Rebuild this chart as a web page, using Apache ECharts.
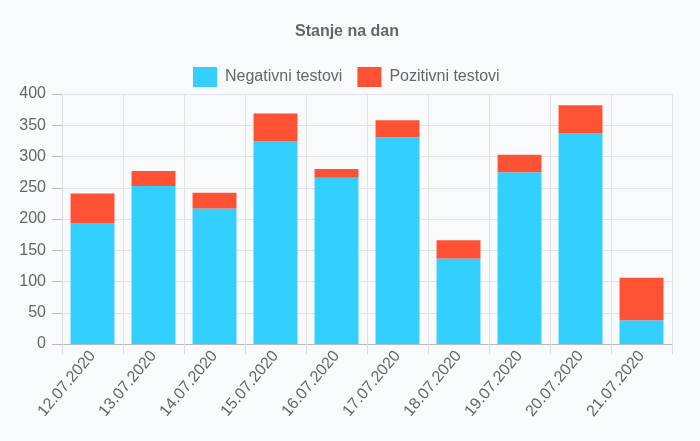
<!DOCTYPE html>
<html>
<head>
<meta charset="utf-8">
<script src="https://cdn.jsdelivr.net/npm/echarts@6/dist/echarts.min.js"></script>
<style>
html,body{margin:0;padding:0;background:#f9fafc;}
#chart{width:700px;height:441px;}
</style>
</head>
<body>
<div id="chart"></div>
<script>
var categories = ['12.07.2020','13.07.2020','14.07.2020','15.07.2020','16.07.2020','17.07.2020','18.07.2020','19.07.2020','20.07.2020','21.07.2020'];
var negativni = [193, 253, 217, 324, 266, 331, 137, 275, 337, 38];
var pozitivni = [48, 24, 25, 45, 14, 27, 29, 28, 45, 68];
var yTicks = [0, 50, 100, 150, 200, 250, 300, 350, 400];

var chart = echarts.init(document.getElementById('chart'), null, {renderer:'canvas'});
var font = '"Liberation Sans", Arial, Helvetica, sans-serif';
chart.setOption({
  backgroundColor: '#f9fafc',
  animation: false,
  title: {
    text: 'Stanje na dan',
    left: 290,
    top: 19,
    textStyle: {fontFamily: font, fontSize: 16, fontWeight: 'bold', color: '#666'}
  },
  legend: {
    top: 62,
    left: 188,
    itemWidth: 24,
    itemHeight: 20,
    itemGap: 15,
    icon: 'rect',
    textStyle: {fontFamily: font, fontSize: 16, color: '#666', padding: [0,0,0,3]},
    data: ['Negativni testovi','Pozitivni testovi']
  },
  grid: {left: 62, right: 28, top: 94, bottom: 97, containLabel: false},
  xAxis: {
    type: 'category',
    data: categories,
    boundaryGap: true,
    axisLine: {lineStyle: {color: '#bbb'}},
    axisTick: {show: true, length: 10, alignWithLabel: false, lineStyle: {color: '#ddd'}},
    splitLine: {show: true, lineStyle: {color: '#e2e2e2'}},
    axisLabel: {rotate: 50, fontFamily: font, fontSize: 16, color: '#666', margin: 9, interval: 0}
  },
  yAxis: {
    type: 'value',
    min: yTicks[0],
    max: yTicks[yTicks.length-1],
    interval: 50,
    axisLine: {show: true, lineStyle: {color: '#ddd'}},
    axisTick: {show: true, length: 10, lineStyle: {color: '#bbb'}},
    splitLine: {show: true, lineStyle: {color: '#e2e2e2'}},
    axisLabel: {fontFamily: font, fontSize: 16, color: '#666', margin: 16}
  },
  series: [
    {name: 'Negativni testovi', type: 'bar', stack: 'a', data: negativni, barWidth: '72%', itemStyle: {color: '#33cfff'}},
    {name: 'Pozitivni testovi', type: 'bar', stack: 'a', data: pozitivni, barWidth: '72%', itemStyle: {color: '#ff5133'}}
  ]
});
</script>
</body>
</html>
